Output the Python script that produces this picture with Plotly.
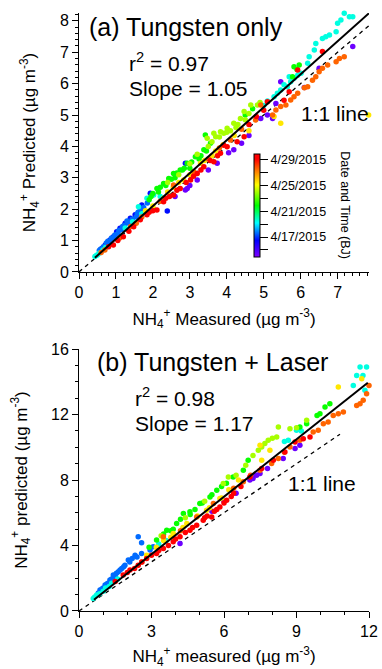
import plotly.graph_objects as go

# Colour value for each group: day of April 2015 (Beijing time)
DAY_PURPLE, DAY_BLUE, DAY_AZURE, DAY_CYAN = 14.3, 16.6, 17.6, 19.5
DAY_GREEN, DAY_LIME, DAY_YELLOW, DAY_ORANGE, DAY_RED = 22.0, 24.0, 25.5, 27.6, 29.5

# ---------------- Panel (a): Tungsten only (measured x, predicted y) ----------------
a_purple_x = [2.93, 2.88, 3.20, 3.74, 4.19, 4.05, 5.46, 5.33, 5.10, 4.92, 5.24, 6.10, 6.50, 7.41, 3.50, 4.40, 4.60, 3.00, 2.60]
a_purple_y = [2.66, 2.61, 2.93, 3.46, 3.89, 3.80, 6.06, 5.37, 5.00, 4.89, 4.89, 5.88, 6.49, 7.18, 3.25, 4.10, 4.35, 2.75, 2.40]
a_blue_x = [2.88, 0.62, 0.71, 0.84, 0.93, 1.02, 1.11, 1.25, 1.39, 1.52, 1.70, 1.93, 2.39]
a_blue_y = [3.46, 0.75, 0.86, 1.02, 1.12, 1.28, 1.39, 1.55, 1.71, 1.82, 2.13, 2.51, 1.94]
a_azure_x = [0.55, 0.78, 1.05, 1.18, 1.30, 1.47, 1.98, 0.68, 0.90, 1.60, 1.66, 0.75, 1.00, 1.35, 1.55, 1.75, 1.85,
             0.58, 0.66, 0.74, 0.82, 0.88, 0.97, 1.08, 1.15, 1.22, 1.33, 1.44, 1.58]
a_azure_y = [0.68, 0.98, 1.22, 1.45, 1.62, 1.56, 2.48, 0.78, 1.05, 1.90, 1.97, 0.85, 1.15, 1.55, 1.75, 2.05, 2.20,
             0.72, 0.80, 0.92, 0.96, 1.08, 1.18, 1.32, 1.35, 1.48, 1.58, 1.68, 1.85]
a_cyan_x = [0.43, 0.50, 1.61, 1.84, 2.02, 2.20, 0.47, 0.55, 0.65, 0.72, 1.25, 1.45, 1.70,
            7.18, 7.32, 7.41, 7.09, 7.00, 6.96, 6.78, 6.68, 6.59, 6.41, 6.37, 6.23, 6.19, 6.01, 5.92, 5.82,
            5.73, 5.69, 5.64, 5.55, 5.46, 5.37, 5.28, 5.10, 5.00]
a_cyan_y = [0.49, 0.55, 2.08, 2.35, 2.45, 2.40, 0.52, 0.60, 0.70, 0.78, 1.40, 1.60, 1.85,
            8.24, 8.13, 8.13, 8.03, 7.92, 7.65, 7.55, 7.49, 7.44, 7.28, 7.07, 6.86, 6.65, 6.33, 6.27, 6.17,
            6.06, 6.22, 5.90, 5.96, 5.80, 5.69, 5.58, 5.45, 5.30]
a_green_x = [2.11, 2.29, 2.43, 2.56, 2.74, 2.93, 3.15, 3.38, 3.56, 2.00, 2.20, 2.60, 2.85, 3.05, 3.30, 3.42,
             5.82, 5.96, 5.78, 5.90, 4.50, 4.70, 1.90, 2.15, 2.35, 2.50, 2.65, 2.80, 3.00, 3.25, 3.45, 1.95]
a_green_y = [2.66, 2.82, 2.98, 3.14, 3.25, 3.46, 3.67, 3.89, 4.10, 2.50, 2.70, 3.00, 3.30, 3.50, 3.70, 4.36,
             6.54, 6.59, 6.22, 6.45, 5.00, 5.20, 2.30, 2.55, 2.75, 2.95, 3.15, 3.25, 3.30, 3.60, 3.85, 2.40]
a_lime_x = [3.70, 3.92, 4.65, 4.47, 4.37, 4.19, 4.01, 3.83, 3.65, 3.47, 4.83, 3.20, 3.50, 2.40, 2.70, 3.00,
            4.30, 4.10, 4.60, 4.90, 3.60, 3.80, 4.00, 4.25, 4.50]
a_lime_y = [4.31, 4.42, 5.32, 5.11, 4.89, 4.74, 4.58, 4.47, 4.42, 4.26, 5.32, 3.75, 4.00, 2.85, 3.10, 3.45,
            4.70, 4.50, 5.05, 5.40, 4.15, 4.30, 4.45, 4.60, 4.85]
a_yellow_x = [2.29, 2.83, 3.29, 5.46, 5.28, 7.84, 3.60, 3.90, 4.20, 2.00, 1.80, 2.55, 4.60, 2.40, 2.70, 3.00, 3.40, 3.70]
a_yellow_y = [2.35, 2.93, 3.46, 4.74, 4.95, 5.00, 3.70, 4.05, 4.35, 2.10, 1.95, 2.70, 4.50, 2.55, 2.85, 3.10, 3.55, 3.85]
a_orange_x = [2.56, 3.11, 4.92, 5.24, 4.78, 7.18, 7.05, 6.96, 6.73, 6.59, 6.50, 6.41, 6.32, 6.19, 6.10, 5.92,
              5.82, 5.73, 5.60, 5.46, 5.33, 1.40, 1.70, 2.20, 3.50, 3.80, 4.40, 4.10, 0.60, 0.70, 1.10, 1.55]
a_orange_y = [2.77, 3.19, 5.32, 5.00, 4.84, 6.86, 6.80, 6.70, 6.59, 6.49, 6.38, 6.22, 6.11, 5.90, 5.87, 5.69,
              5.58, 5.48, 5.32, 5.27, 5.16, 1.45, 1.75, 2.25, 3.60, 3.95, 4.55, 4.20, 0.62, 0.70, 1.08, 1.55]
a_red_x = [0.93, 1.20, 1.48, 1.66, 1.84, 2.11, 2.29, 2.56, 2.74, 3.02, 3.20, 3.38, 3.65, 3.83, 4.01, 3.92, 4.47,
           4.28, 5.10, 6.59, 5.92, 5.69, 5.55, 0.80, 1.05, 1.35, 2.00, 2.45, 2.90, 3.10, 3.55, 4.60, 4.80, 5.00,
           1.90, 2.35, 2.65, 3.30, 3.75]
a_red_y = [0.86, 1.12, 1.44, 1.66, 1.82, 1.97, 2.24, 2.45, 2.66, 2.93, 3.14, 3.35, 3.51, 3.78, 3.99, 4.04, 4.31,
           4.15, 5.42, 7.02, 6.43, 5.74, 5.47, 0.80, 1.00, 1.30, 1.95, 2.40, 2.85, 3.05, 3.55, 4.70, 4.95, 5.15,
           1.90, 2.35, 2.60, 3.25, 3.70]

# ---------------- Panel (b): Tungsten + Laser ----------------
b_purple_x = [4.18, 7.07, 7.20, 7.35, 7.49, 7.20, 8.45, 8.94, 9.14, 6.50, 5.50, 6.00, 7.80]
b_purple_y = [4.13, 8.00, 8.10, 8.30, 8.40, 8.20, 9.31, 9.92, 10.12, 7.20, 6.10, 6.70, 8.70]
b_azure_x = [0.87, 1.08, 1.28, 1.42, 1.63, 1.77, 2.04, 2.32, 2.59, 2.45, 2.59, 2.94, 3.07, 1.00, 1.20, 1.50,
             1.90, 2.20, 0.80, 1.70, 0.95, 1.15, 1.35, 1.55, 1.85, 2.10, 2.40]
b_azure_y = [1.28, 1.59, 1.89, 2.20, 2.40, 2.60, 3.11, 3.41, 3.52, 4.53, 4.17, 3.72, 3.92, 1.40, 1.70, 2.10,
             2.80, 3.20, 1.10, 2.50, 1.35, 1.65, 1.95, 2.30, 2.70, 3.00, 3.30]
b_cyan_x = [0.59, 0.73, 1.35, 1.10, 11.63, 11.90, 11.49, 11.75, 11.35, 11.83, 9.00, 8.66, 8.50, 9.20, 3.30, 3.60,
            0.65, 0.85, 1.00, 1.25, 1.60]
b_cyan_y = [0.77, 0.98, 1.69, 1.40, 14.90, 14.90, 14.39, 14.39, 13.78, 13.48, 11.04, 10.43, 10.35, 11.00, 4.10, 4.30,
            0.85, 1.05, 1.20, 1.50, 1.95]
b_green_x = [3.21, 3.63, 4.04, 4.32, 4.59, 5.00, 5.42, 5.70, 10.38, 10.18, 9.97, 9.85, 9.42, 9.14, 7.00, 6.80,
             6.38, 3.90, 4.80, 2.90, 6.10, 3.50, 3.80, 4.20, 4.60, 5.10, 5.50, 5.90]
b_green_y = [4.33, 4.94, 5.35, 5.96, 6.06, 6.57, 6.97, 7.38, 12.66, 12.46, 12.05, 11.95, 11.44, 11.24, 9.21, 8.60,
             8.19, 5.00, 6.20, 3.90, 7.80, 4.70, 4.90, 5.60, 5.90, 6.60, 7.10, 7.60]
b_lime_x = [5.97, 6.18, 8.25, 8.18, 8.00, 7.83, 7.69, 7.56, 7.42, 8.73, 9.00, 9.42, 6.50, 6.90, 7.20, 4.40, 5.20, 3.40]
b_lime_y = [7.79, 8.19, 11.24, 10.63, 10.55, 10.43, 10.23, 10.02, 9.82, 11.14, 11.20, 11.65, 8.30, 8.90, 9.50, 5.70, 6.70, 4.60]
b_yellow_x = [3.90, 4.46, 5.28, 5.83, 10.73, 11.70, 7.49, 7.90, 7.56, 2.80, 6.60, 3.50, 3.20, 3.80, 4.30, 4.90, 5.40, 5.90, 6.20]
b_yellow_y = [4.74, 5.35, 6.16, 6.87, 13.68, 14.19, 10.12, 9.82, 9.21, 3.40, 8.00, 4.30, 3.90, 4.50, 5.10, 5.80, 6.30, 6.90, 7.40]
b_orange_x = [3.49, 4.87, 5.56, 12.00, 11.90, 11.76, 11.63, 11.49, 10.94, 10.73, 10.52, 10.31, 10.11, 9.90, 9.69,
              9.14, 8.73, 8.25, 7.97, 7.49, 8.50, 7.10, 6.40, 6.80, 4.20, 2.60]
b_orange_y = [4.53, 5.75, 6.57, 13.78, 13.27, 12.87, 12.66, 12.56, 12.15, 12.05, 11.95, 11.54, 11.44, 11.04, 10.93,
              10.43, 10.02, 9.31, 9.01, 8.60, 9.70, 8.30, 7.50, 7.90, 4.90, 3.00]
b_red_x = [1.83, 2.11, 2.45, 2.80, 3.21, 3.49, 3.90, 4.18, 4.59, 4.87, 5.14, 5.49, 5.83, 6.11, 9.56, 9.28, 8.94,
           8.52, 8.04, 7.56, 7.07, 6.70, 6.40, 1.50, 2.30, 3.00, 3.70, 4.40, 5.30, 5.70,
           2.00, 2.60, 3.30, 4.00, 4.70, 5.20, 5.60, 6.00, 6.30]
b_red_y = [2.20, 2.50, 2.80, 3.21, 3.52, 3.82, 4.23, 4.53, 4.94, 5.24, 5.55, 5.75, 6.36, 6.77, 10.63, 10.53, 10.32,
           9.71, 9.21, 8.70, 8.19, 7.60, 7.20, 1.80, 2.60, 3.40, 4.00, 4.80, 5.80, 6.20,
           2.35, 3.00, 3.70, 4.40, 5.10, 5.70, 6.10, 6.60, 7.00]

# fit results and line extents
a_slope, a_icept, a_fit_x = 1.05, 0.0, [0.43, 7.85]
b_slope, b_icept, b_fit_x = 1.17, -0.04, [0.62, 11.95]
a_one_x = [0.0, 7.85]
b_one_x = [0.0, 10.8]

cbar_vals = [15, 17, 19, 21, 23, 25, 27, 29]
cbar_text = [" ", "4/17/2015", " ", "4/21/2015", " ", "4/25/2015", " ", "4/29/2015"]

a_groups = [(a_purple_x, a_purple_y, DAY_PURPLE), (a_blue_x, a_blue_y, DAY_BLUE),
            (a_azure_x, a_azure_y, DAY_AZURE), (a_cyan_x, a_cyan_y, DAY_CYAN),
            (a_green_x, a_green_y, DAY_GREEN), (a_lime_x, a_lime_y, DAY_LIME),
            (a_yellow_x, a_yellow_y, DAY_YELLOW), (a_orange_x, a_orange_y, DAY_ORANGE),
            (a_red_x, a_red_y, DAY_RED)]
b_groups = [(b_purple_x, b_purple_y, DAY_PURPLE), (b_azure_x, b_azure_y, DAY_AZURE),
            (b_cyan_x, b_cyan_y, DAY_CYAN), (b_green_x, b_green_y, DAY_GREEN),
            (b_lime_x, b_lime_y, DAY_LIME), (b_yellow_x, b_yellow_y, DAY_YELLOW),
            (b_orange_x, b_orange_y, DAY_ORANGE), (b_red_x, b_red_y, DAY_RED)]


def flatten(groups):
    xs, ys, cs = [], [], []
    for gx, gy, d in groups:
        xs += gx
        ys += gy
        cs += [d] * len(gx)
    return xs, ys, cs


a_meas, a_pred, a_day = flatten(a_groups)
b_meas, b_pred, b_day = flatten(b_groups)

FONT = "Liberation Sans, Arial, sans-serif"

fig = go.Figure()

# ---- panel a
fig.add_trace(go.Scatter(x=a_one_x, y=a_one_x, mode="lines", xaxis="x", yaxis="y",
                         line=dict(color="black", width=1.3, dash="4px,4px"), showlegend=False))
fig.add_trace(go.Scatter(x=a_meas, y=a_pred, mode="markers", xaxis="x", yaxis="y",
                         marker=dict(size=5.5, color=a_day, coloraxis="coloraxis"),
                         cliponaxis=False, showlegend=False))
fig.add_trace(go.Scatter(x=a_fit_x, y=[a_slope * v + a_icept for v in a_fit_x], mode="lines",
                         xaxis="x", yaxis="y", line=dict(color="black", width=2), showlegend=False))

# ---- panel b
fig.add_trace(go.Scatter(x=b_one_x, y=b_one_x, mode="lines", xaxis="x2", yaxis="y2",
                         line=dict(color="black", width=1.3, dash="4px,4px"), showlegend=False))
fig.add_trace(go.Scatter(x=b_meas, y=b_pred, mode="markers", xaxis="x2", yaxis="y2",
                         marker=dict(size=5.5, color=b_day, coloraxis="coloraxis"),
                         cliponaxis=False, showlegend=False))
fig.add_trace(go.Scatter(x=b_fit_x, y=[b_slope * v + b_icept for v in b_fit_x], mode="lines",
                         xaxis="x2", yaxis="y2", line=dict(color="black", width=2), showlegend=False))

axis_common = dict(showline=True, linecolor="black", linewidth=1, ticks="outside", ticklen=6,
                   tickwidth=1, tickcolor="black", showgrid=False, zeroline=False, automargin=False,
                   tickfont=dict(size=16, color="black", family=FONT))

fig.update_layout(
    width=382, height=669, autosize=False,
    margin=dict(l=79, r=13, t=13, b=58, pad=0),
    paper_bgcolor="white", plot_bgcolor="white",
    font=dict(family=FONT, color="black"),
    xaxis=dict(domain=[0, 1], anchor="y", range=[0, 7.85], tick0=0, dtick=1,
               minor=dict(ticks="outside", ticklen=3, dtick=0.2, tick0=0, tickcolor="black"),
               title=dict(text="NH<sub>4</sub><sup>+</sup> Measured (µg m<sup>-3</sup>)",
                          font=dict(size=17), standoff=12),
               **axis_common),
    yaxis=dict(domain=[0.567, 1], anchor="x", range=[0, 8.25], tick0=0, dtick=1,
               minor=dict(ticks="outside", ticklen=3, dtick=0.2, tick0=0, tickcolor="black"),
               title=dict(text="NH<sub>4</sub><sup>+</sup> Predicted (µg m<sup>-3</sup>)",
                          font=dict(size=17), standoff=19),
               **axis_common),
    xaxis2=dict(domain=[0, 1], anchor="y2", range=[0, 12], tick0=0, dtick=3,
                minor=dict(ticks="outside", ticklen=3, dtick=1, tick0=0, tickcolor="black"),
                title=dict(text="NH<sub>4</sub><sup>+</sup> measured (µg m<sup>-3</sup>)",
                           font=dict(size=17), standoff=12),
                **axis_common),
    yaxis2=dict(domain=[0, 0.438], anchor="x2", range=[0, 16], tick0=0, dtick=4,
                minor=dict(ticks="outside", ticklen=3, dtick=1, tick0=0, tickcolor="black"),
                title=dict(text="NH<sub>4</sub><sup>+</sup> predicted (µg m<sup>-3</sup>)",
                           font=dict(size=17), standoff=19),
                **axis_common),
    coloraxis=dict(
        cmin=13.9, cmax=29.9,
        colorscale=[[0, "#8000ff"], [0.16, "#0000ff"], [0.33, "#00ffff"], [0.5, "#00ff00"],
                    [0.7, "#ffff00"], [0.83, "#ff8000"], [0.95, "#ff0000"], [1, "#ff0000"]],
        colorbar=dict(x=0.603, xanchor="left", y=0.678, yanchor="middle",
                      thickness=6, thicknessmode="pixels", len=103, lenmode="pixels",
                      xpad=0, ypad=0, outlinewidth=1, outlinecolor="black",
                      ticks="outside", ticklen=8, tickwidth=1, tickcolor="black",
                      tickvals=cbar_vals, ticktext=cbar_text,
                      tickfont=dict(size=12.5, color="black", family=FONT)),
    ),
)

ann = [
    dict(text="(a) Tungsten only", x=0.22, y=7.80, xref="x", yref="y", font=dict(size=25)),
    dict(text="r<sup>2</sup> = 0.97", x=1.30, y=6.70, xref="x", yref="y", font=dict(size=21)),
    dict(text="Slope = 1.05", x=1.30, y=5.86, xref="x", yref="y", font=dict(size=21)),
    dict(text="1:1 line", x=5.95, y=5.06, xref="x", yref="y", font=dict(size=21)),
    dict(text="(b) Tungsten + Laser", x=0.66, y=15.18, xref="x2", yref="y2", font=dict(size=25)),
    dict(text="r<sup>2</sup> = 0.98", x=2.23, y=13.05, xref="x2", yref="y2", font=dict(size=21)),
    dict(text="Slope = 1.17", x=2.23, y=11.45, xref="x2", yref="y2", font=dict(size=21)),
    dict(text="1:1 line", x=8.55, y=7.80, xref="x2", yref="y2", font=dict(size=21)),
]
for a in ann:
    fig.add_annotation(showarrow=False, xanchor="left", yanchor="middle", **a)

fig.add_annotation(text="Date and Time (BJ)", x=0.918, y=0.678, xref="paper", yref="paper",
                   showarrow=False, textangle=90, xanchor="center", yanchor="middle",
                   font=dict(size=12.5))

fig.write_html("out.html", config={"displayModeBar": False},
               post_script="document.body.style.margin='0px';document.body.style.overflow='hidden';")
